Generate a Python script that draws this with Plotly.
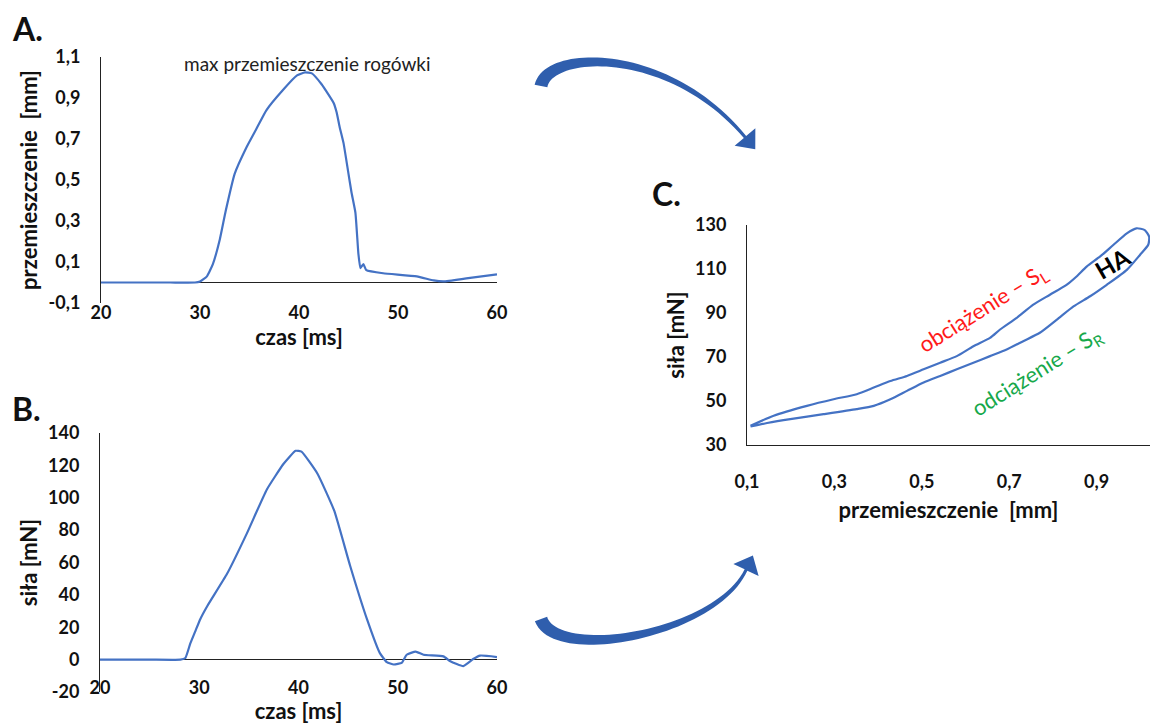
import math
import plotly.graph_objects as go

W, H = 1150, 724

# ---------------- data ----------------
# Panel A: displacement vs time
a_time = [20, 24, 27, 29.5, 30, 30.7, 31.3, 32.0, 32.6, 33.5, 34.7, 35.7, 36.7, 38.4, 39.8,
          40.6, 41.3, 42.3, 42.8, 43.5, 43.8, 44.1, 44.5, 45.0, 45.3, 45.7, 46.0, 46.2, 46.5,
          46.8, 48.5, 51.9, 53.6, 54.6, 56.9, 60]
a_disp = [0, 0, 0, 0, 0.005, 0.03, 0.09, 0.21, 0.35, 0.53, 0.66, 0.75, 0.84, 0.94, 1.01,
          1.025, 1.02, 0.966, 0.93, 0.876, 0.83, 0.76, 0.68, 0.53, 0.44, 0.34, 0.14, 0.07, 0.09,
          0.06, 0.045, 0.03, 0.01, 0.005, 0.02, 0.04]
a_xticks = [20, 30, 40, 50, 60]
a_yticks = [-0.1, 0.1, 0.3, 0.5, 0.7, 0.9, 1.1]
a_yticktext = ["-0,1", "0,1", "0,3", "0,5", "0,7", "0,9", "1,1"]

# Panel B: force vs time
b_time = [20, 25, 28.1, 28.6, 29.1, 29.6, 30.1, 30.8, 32.8, 34.8, 36.8, 38.5, 39.7, 40.3,
          41.9, 43.6, 45.2, 46.9, 48.2, 48.9, 49.6, 50.4, 50.9, 51.8, 52.6, 54.6, 55.3, 56.6,
          57.6, 58.3, 60]
b_force = [0, 0, 0, 1, 10, 17.5, 25, 33, 53, 78, 105, 121, 129, 128.5,
           115, 92, 58, 25, 4, -1.6, -3, -2, 3, 5, 3, 2, -1, -4,
           0.4, 2.5, 1.6]
b_xticks = [20, 30, 40, 50, 60]
b_yticks = [-20, 0, 20, 40, 60, 80, 100, 120, 140]
b_yticktext = ["-20", "0", "20", "40", "60", "80", "100", "120", "140"]

# Panel C: force vs displacement (loading then unloading)
c_disp = [0.108, 0.161, 0.237, 0.298, 0.351, 0.390, 0.428, 0.466, 0.504, 0.542, 0.580, 0.618,
          0.656, 0.679, 0.717, 0.755, 0.793, 0.831, 0.854, 0.877, 0.908, 0.938, 0.969, 0.991,
          1.010, 1.020, 1.018,
          0.999, 0.969, 0.923, 0.885, 0.847, 0.809, 0.770, 0.732, 0.694, 0.656, 0.618, 0.580,
          0.542, 0.504, 0.466, 0.428, 0.390, 0.351, 0.275, 0.199, 0.146, 0.108]
c_force = [38.7, 43.3, 47.8, 50.8, 53.1, 56.1, 59.1, 61.4, 64.4, 67.4, 70.4, 74.9,
           78.7, 82.5, 87.8, 93.8, 98.3, 102.8, 106.6, 111.1, 115.7, 120.9, 126.2, 128.5,
           127.7, 124.7, 121.0,
           116.4, 109.6, 102.8, 97.6, 93.0, 87.0, 81.0, 77.2, 73.4, 70.4, 67.4, 64.4,
           61.4, 58.4, 54.6, 50.8, 47.8, 46.3, 44.0, 41.8, 40.0, 38.4]
c_xticks = [0.1, 0.3, 0.5, 0.7, 0.9]
c_xticktext = ["0,1", "0,3", "0,5", "0,7", "0,9"]
c_yticks = [30, 50, 70, 90, 110, 130]

LINE = "#4472C4"
ARROW = "#2F5EAD"
FONT = "Lato"


def dx(x0, x1):
    return [x0 / W, x1 / W]


def dy(top, bottom):
    return [1 - bottom / H, 1 - top / H]


def px(x, y):
    return f"{x / W:.5f},{1 - y / H:.5f}"


def arrow_path(p0, p1, p2, p3, w0, w1, head_w, head_len, n=48):
    """Curved tapering arrow outline (pixel coords) -> SVG path in paper coords."""
    left, right = [], []
    for i in range(n + 1):
        t = i / n
        u = 1 - t
        bx = u**3 * p0[0] + 3 * u * u * t * p1[0] + 3 * u * t * t * p2[0] + t**3 * p3[0]
        by = u**3 * p0[1] + 3 * u * u * t * p1[1] + 3 * u * t * t * p2[1] + t**3 * p3[1]
        ddx = 3 * u * u * (p1[0] - p0[0]) + 6 * u * t * (p2[0] - p1[0]) + 3 * t * t * (p3[0] - p2[0])
        ddy = 3 * u * u * (p1[1] - p0[1]) + 6 * u * t * (p2[1] - p1[1]) + 3 * t * t * (p3[1] - p2[1])
        L = math.hypot(ddx, ddy)
        nx, ny = -ddy / L, ddx / L
        w = (w0 + (w1 - w0) * t) / 2
        left.append((bx + nx * w, by + ny * w))
        right.append((bx - nx * w, by - ny * w))
        if i == n:
            ex, ey, ux, uy, enx, eny = bx, by, ddx / L, ddy / L, nx, ny
    head = [(ex + enx * head_w / 2, ey + eny * head_w / 2),
            (ex + ux * head_len, ey + uy * head_len),
            (ex - enx * head_w / 2, ey - eny * head_w / 2)]
    pts = left + head + right[::-1]
    return "M " + " L ".join(px(x, y) for x, y in pts) + " Z"


fig = go.Figure()
fig.add_trace(go.Scatter(x=a_time, y=a_disp, mode="lines", xaxis="x", yaxis="y",
                         line=dict(color=LINE, width=2.2, shape="spline", smoothing=0.4),
                         showlegend=False, hoverinfo="skip"))
fig.add_trace(go.Scatter(x=b_time, y=b_force, mode="lines", xaxis="x2", yaxis="y2",
                         line=dict(color=LINE, width=2.2, shape="spline", smoothing=0.4),
                         showlegend=False, hoverinfo="skip"))
fig.add_trace(go.Scatter(x=c_disp, y=c_force, mode="lines", xaxis="x3", yaxis="y3",
                         line=dict(color=LINE, width=2.2, shape="spline", smoothing=0.6),
                         showlegend=False, hoverinfo="skip"))

tickfont = dict(family=FONT, size=18, color="#111111", weight="bold")
titlefont = dict(family=FONT, size=22, color="#111111", weight="bold")
hidden_tick = dict(ticks="outside", tickcolor="rgba(0,0,0,0)")

common_x = dict(showgrid=False, zeroline=False, tickfont=tickfont, automargin=False,
                title_font=titlefont)
common_y = dict(showgrid=False, tickfont=tickfont, automargin=False, title_font=titlefont,
                showline=True, linecolor="#222222", linewidth=1,
                zeroline=True, zerolinecolor="#222222", zerolinewidth=1)

fig.update_layout(
    width=W, height=H, autosize=False,
    margin=dict(l=0, r=0, t=0, b=0),
    paper_bgcolor="white", plot_bgcolor="rgba(0,0,0,0)",
    font=dict(family=FONT, color="#111111"),
    xaxis=dict(domain=dx(101, 497), range=[20, 60], tickvals=a_xticks,
               anchor="free", position=1 - 300 / H, showline=False, ticklen=0,
               title=dict(text="czas [ms]", standoff=2), **common_x),
    yaxis=dict(domain=dy(57, 303), range=[-0.1, 1.1], tickvals=a_yticks,
               ticktext=a_yticktext, anchor="x", ticklen=16, **hidden_tick,
               title=dict(text="przemieszczenie  [mm]", standoff=4), **common_y),
    xaxis2=dict(domain=dx(100, 497), range=[20, 60], tickvals=b_xticks,
                anchor="free", position=1 - 675 / H, showline=False, ticklen=0,
                title=dict(text="czas [ms]", standoff=1), **common_x),
    yaxis2=dict(domain=dy(433, 692), range=[-20, 140], tickvals=b_yticks,
                ticktext=b_yticktext, anchor="x2", ticklen=16, **hidden_tick,
                title=dict(text="siła [mN]", standoff=4), **common_y),
    xaxis3=dict(domain=dx(747, 1150), range=[0.1, 1.022], tickvals=c_xticks,
                ticktext=c_xticktext, anchor="y3", showline=True, linecolor="#222222",
                linewidth=1, ticklen=20, **hidden_tick,
                title=dict(text="przemieszczenie  [mm]", standoff=12), **common_x),
    yaxis3=dict(domain=dy(225, 445), range=[30, 130], tickvals=c_yticks,
                anchor="x3", ticklen=16, **hidden_tick,
                title=dict(text="siła [mN]", standoff=4),
                **{k: v for k, v in common_y.items() if k not in ("zeroline",)},
                zeroline=False),
)

# panel letters
for txt, x, y in [("A.", 10, 28), ("B.", 10, 408), ("C.", 650, 193)]:
    fig.add_annotation(text=txt, x=x / W, y=1 - y / H, xref="paper", yref="paper",
                       xanchor="left", yanchor="middle", showarrow=False,
                       font=dict(family=FONT, size=32, color="#111111", weight="bold"))

fig.add_annotation(text="max przemieszczenie rogówki", x=307 / W, y=1 - 63 / H,
                   xref="paper", yref="paper", showarrow=False,
                   xanchor="center", yanchor="middle",
                   font=dict(family=FONT, size=19, color="#222222"))

fig.add_annotation(text="obciążenie – S<sub>L</sub>", x=983 / W, y=1 - 309 / H,
                   xref="paper", yref="paper", showarrow=False, textangle=-32,
                   xanchor="center", yanchor="middle",
                   font=dict(family=FONT, size=22, color="#FF1A1A"))
fig.add_annotation(text="odciążenie – S<sub>R</sub>", x=1037 / W, y=1 - 372 / H,
                   xref="paper", yref="paper", showarrow=False, textangle=-32,
                   xanchor="center", yanchor="middle",
                   font=dict(family=FONT, size=22, color="#16A84A"))
fig.add_annotation(text="HA", x=1112 / W, y=1 - 264 / H,
                   xref="paper", yref="paper", showarrow=False, textangle=-30,
                   xanchor="center", yanchor="middle",
                   font=dict(family=FONT, size=24, color="#000000", weight="bold"))

# curved arrows (decorative)
arrow1 = arrow_path((541, 86), (548, 50), (668, 45), (745, 137), 13, 3, 27, 16)
arrow2 = arrow_path((541, 619), (556, 662), (715, 635), (746, 570), 13, 3, 28, 16)
for p in (arrow1, arrow2):
    fig.add_shape(type="path", path=p, xref="paper", yref="paper",
                  fillcolor=ARROW, line=dict(width=0), layer="above")

fig.write_html("out.html", config={"displayModeBar": False},
               post_script="document.body.style.margin='0';"
                           "document.body.style.overflow='hidden';")
